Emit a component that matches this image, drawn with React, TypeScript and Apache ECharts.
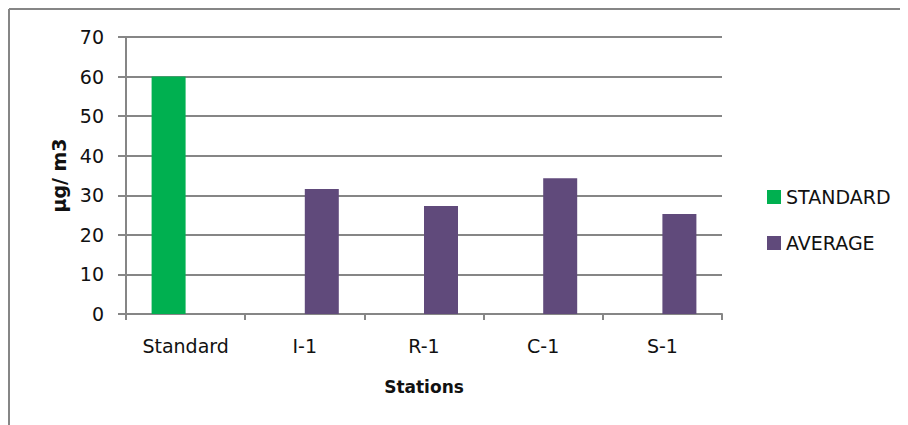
import React, { useEffect, useRef } from "react";
import * as echarts from "echarts";

const categories = ["Standard", "I-1", "R-1", "C-1", "S-1"];
const standardValues = [60, null, null, null, null];
const averageValues = [null, 31.6, 27.3, 34.3, 25.3];
const yTicks = { min: 0, max: 70, interval: 10 };

const FONT = "DejaVu Sans";
const GRAY = "#868686";

export default function App() {
  const ref = useRef<HTMLDivElement>(null);
  useEffect(() => {
    if (!ref.current) return;
    const chart = echarts.init(ref.current, undefined, { renderer: "svg" });
    chart.setOption({
      animation: false,
      backgroundColor: "#ffffff",
      textStyle: { fontFamily: FONT },
      graphic: [
        { type: "line", shape: { x1: 1, y1: 1, x2: 900, y2: 1 }, style: { stroke: GRAY, lineWidth: 2 } },
        { type: "line", shape: { x1: 1, y1: 1, x2: 1, y2: 417 }, style: { stroke: GRAY, lineWidth: 2 } },
      ],
      grid: { left: 118, top: 29, width: 596, height: 277, containLabel: false },
      legend: {
        orient: "vertical",
        left: 754,
        top: 174,
        itemWidth: 14,
        itemHeight: 14,
        itemGap: 26,
        icon: "rect",
        textStyle: { fontFamily: FONT, fontSize: 19, color: "#111", lineHeight: 20 },
        data: ["STANDARD", "AVERAGE"],
      },
      xAxis: {
        type: "category",
        data: categories,
        name: "Stations",
        nameLocation: "middle",
        nameGap: 64,
        nameTextStyle: { fontFamily: FONT, fontSize: 17, fontWeight: "bold", color: "#111" },
        axisLine: { show: true, lineStyle: { color: GRAY, width: 2 } },
        axisTick: { show: true, length: 6, lineStyle: { color: GRAY, width: 2 } },
        axisLabel: { fontFamily: FONT, fontSize: 19, color: "#111", margin: 22 },
        splitLine: { show: false },
      },
      yAxis: {
        type: "value",
        min: yTicks.min,
        max: yTicks.max,
        interval: yTicks.interval,
        name: "µg/ m3",
        nameLocation: "middle",
        nameGap: 58,
        nameTextStyle: { fontFamily: FONT, fontSize: 19, fontWeight: "bold", color: "#111" },
        axisLine: { show: true, lineStyle: { color: GRAY, width: 2 } },
        axisTick: { show: true, length: 8, lineStyle: { color: GRAY, width: 2 } },
        axisLabel: { fontFamily: FONT, fontSize: 19, color: "#111", margin: 22 },
        splitLine: { show: true, lineStyle: { color: GRAY, width: 2 } },
      },
      series: [
        {
          name: "STANDARD",
          type: "bar",
          data: standardValues,
          barWidth: 34,
          barGap: "0%",
          itemStyle: { color: "#00B050" },
        },
        {
          name: "AVERAGE",
          type: "bar",
          data: averageValues,
          barWidth: 34,
          barGap: "0%",
          itemStyle: { color: "#604A7B" },
        },
      ],
    });
    return () => chart.dispose();
  }, []);
  return <div ref={ref} style={{ width: 900, height: 417 }} />;
}
